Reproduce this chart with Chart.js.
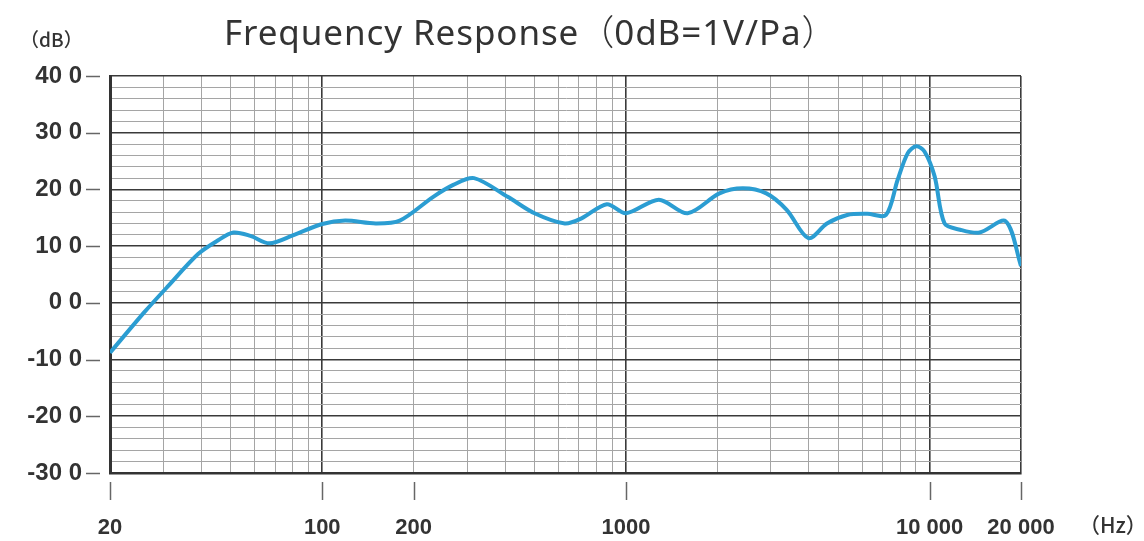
<!DOCTYPE html>
<html>
<head>
<meta charset="utf-8">
<script src="https://cdn.jsdelivr.net/npm/chart.js@4/dist/chart.umd.min.js"></script>
<style>
html,body{margin:0;padding:0;background:#ffffff;}
#wrap{width:1144px;height:541px;position:relative;}
</style>
</head>
<body>
<div id="wrap"><canvas id="c" width="1144" height="541"></canvas></div>
<script>
// ---- data ----
const frequencies = [20, 26, 31, 39, 45, 51, 58, 67, 80, 100, 119, 150, 180, 232, 270, 316, 408, 500, 629, 714, 865, 1000, 1284, 1597, 2032, 2427, 2900, 3384, 3991, 4592, 5354, 6243, 7183, 7850, 8476, 9040, 9620, 10390, 11200, 12600, 14600, 17800, 20000];
const responseDb = [-8.8, -1.6, 2.9, 8.6, 10.9, 12.4, 11.8, 10.5, 11.9, 13.9, 14.5, 14.0, 14.5, 18.7, 20.8, 22.0, 18.7, 15.8, 14.0, 14.9, 17.4, 15.8, 18.2, 15.8, 19.3, 20.2, 19.3, 16.4, 11.4, 14.0, 15.5, 15.7, 15.5, 21.7, 26.4, 27.6, 26.7, 22.3, 14.0, 12.9, 12.4, 14.4, 6.5];

const xGridValues = [20, 30, 40, 50, 60, 70, 80, 90, 100, 200, 300, 400, 500, 600, 700, 800, 900, 1000, 2000, 3000, 4000, 5000, 6000, 7000, 8000, 9000, 10000, 20000];
const xMajorValues = [20, 100, 1000, 10000, 20000];
const xLabelValues = [20, 100, 200, 1000, 10000, 20000];
const xTickLabels = ["20", "100", "200", "1000", "10 000", "20 000"];

const yLabelValues = [40, 30, 20, 10, 0, -10, -20, -30];
const yTickLabels = ["40 0", "30 0", "20 0", "10 0", "0 0", "-10 0", "-20 0", "-30 0"];

const titleParts = ["Frequency Response", "（", "0dB=1V/Pa", "）"];
const yUnitText = "（dB）";
const xUnitText = "（Hz）";

// ---- chart ----
const points = frequencies.map((f, i) => ({x: f, y: responseDb[i]}));

const LATIN = '"Noto Sans", "Liberation Sans", sans-serif';
const CJK = '"Noto Sans CJK SC", "Noto Sans CJK JP", sans-serif';

const decorPlugin = {
  id: 'decor',
  afterDraw(chart) {
    const ctx = chart.ctx;
    const xs = chart.scales.x, ys = chart.scales.y;
    const area = chart.chartArea;
    ctx.save();
    // tick marks (detached from the frame)
    ctx.strokeStyle = '#666';
    ctx.lineWidth = 1.5;
    xLabelValues.forEach(v => {
      const px = Math.round(xs.getPixelForValue(v)) + 0.5;
      ctx.beginPath();
      ctx.moveTo(px, area.bottom + 9);
      ctx.lineTo(px, area.bottom + 27);
      ctx.stroke();
    });
    yLabelValues.forEach(v => {
      const py = Math.round(ys.getPixelForValue(v)) + 0.5;
      ctx.beginPath();
      ctx.moveTo(area.left - 24, py);
      ctx.lineTo(area.left - 10, py);
      ctx.stroke();
    });
    // title, drawn in pieces so the full-width brackets use the CJK font
    ctx.fillStyle = '#333';
    ctx.textBaseline = 'alphabetic';
    ctx.textAlign = 'left';
    let tx = 224;
    titleParts.forEach((part, i) => {
      const isBracket = (i % 2 === 1);
      ctx.font = isBracket ? ('300 35px ' + CJK) : ('400 35px ' + LATIN);
      ctx.letterSpacing = isBracket ? '0px' : '0.9px';
      ctx.fillText(part, tx, 45);
      tx += ctx.measureText(part).width;
    });
    ctx.letterSpacing = '0px';
    // units
    ctx.textBaseline = 'middle';
    ctx.font = '500 19px ' + CJK;
    ctx.fillText(yUnitText, 20, 40);
    ctx.font = '500 21px ' + CJK;
    ctx.fillText(xUnitText, 1079, 525);
    ctx.restore();
  }
};

new Chart(document.getElementById('c'), {
  type: 'line',
  data: {
    datasets: [{
      data: points,
      borderColor: '#2b9dd2',
      borderWidth: 4,
      pointRadius: 0,
      fill: false,
      tension: 0.3
    }]
  },
  options: {
    responsive: false,
    animation: false,
    layout: {padding: {top: 76, left: 0, right: 123, bottom: 0}},
    plugins: {legend: {display: false}, tooltip: {enabled: false}, title: {display: false}},
    scales: {
      x: {
        type: 'logarithmic',
        min: 20,
        max: 20000,
        afterBuildTicks(scale) {
          scale.ticks = xGridValues.map(v => ({value: v}));
        },
        afterFit(scale) { scale.height = 68; },
        ticks: {
          autoSkip: false,
          maxRotation: 0,
          minRotation: 0,
          padding: 42,
          color: '#333',
          font: {family: '"Liberation Sans", Arial, sans-serif', size: 22, weight: 'bold'},
          callback(value) {
            const i = xLabelValues.indexOf(Number(value));
            return i >= 0 ? xTickLabels[i] : '';
          }
        },
        grid: {
          drawTicks: false,
          color(ctx) {
            const v = ctx.tick ? ctx.tick.value : null;
            return xMajorValues.includes(v) ? '#3a3a3a' : '#a5a5a5';
          },
          lineWidth(ctx) {
            const v = ctx.tick ? ctx.tick.value : null;
            return xMajorValues.includes(v) ? 1.6 : 1;
          }
        },
        border: {display: true, color: '#333', width: 2.5}
      },
      y: {
        type: 'linear',
        min: -30,
        max: 40,
        afterFit(scale) { scale.width = 110; },
        ticks: {
          stepSize: 2,
          autoSkip: false,
          padding: 28,
          color: '#333',
          font: {family: '"Liberation Sans", Arial, sans-serif', size: 24, weight: 'bold'},
          callback(value) {
            const i = yLabelValues.indexOf(Number(value));
            return i >= 0 ? yTickLabels[i] : '';
          }
        },
        grid: {
          drawTicks: false,
          color(ctx) {
            const v = ctx.tick ? ctx.tick.value : 1;
            return (Math.round(v) % 10 === 0) ? '#3a3a3a' : '#a5a5a5';
          },
          lineWidth(ctx) {
            const v = ctx.tick ? ctx.tick.value : 1;
            return (Math.round(v) % 10 === 0) ? 1.6 : 1;
          }
        },
        border: {display: true, color: '#333', width: 3}
      }
    }
  },
  plugins: [decorPlugin]
});
</script>
</body>
</html>
